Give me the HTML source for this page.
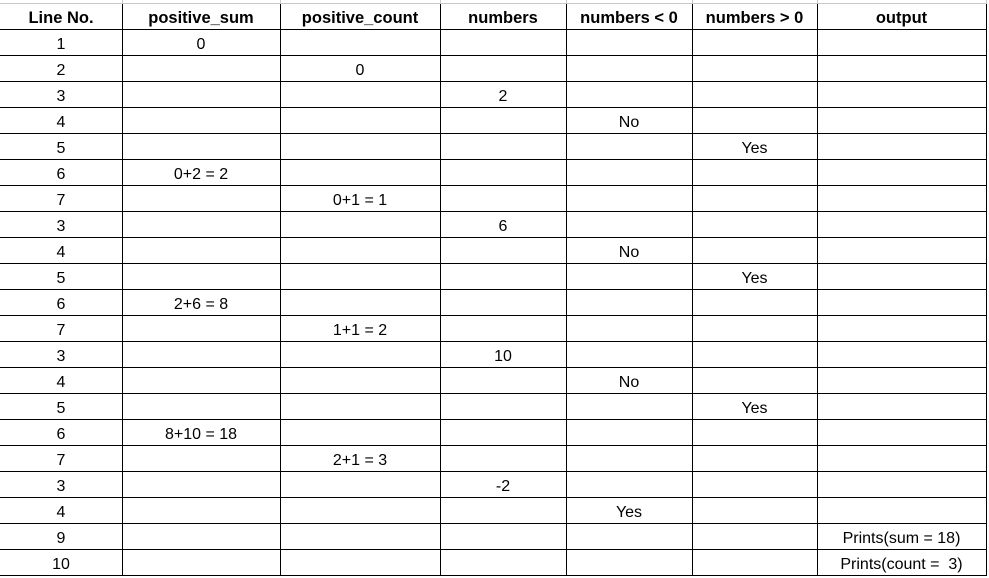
<!DOCTYPE html>
<html><head><style>
body{margin:0;width:989px;height:577px;background:#fff;position:relative;overflow:hidden;font-family:"Liberation Sans",Arial,sans-serif;font-size:16px;color:#000}
.v{position:absolute;top:3px;width:1px;height:573px;background:#000}
.vg{position:absolute;top:0;width:1px;height:4px;background:#c8c8c8}
.h{position:absolute;left:0;width:987px;height:1px;background:#000}
.c{position:absolute;height:26px;line-height:26px;text-align:center;white-space:nowrap}
.b{font-weight:bold;font-size:16.5px}
</style></head><body>
<div style="position:absolute;left:0;top:3px;width:987px;height:1px;background:#c8c8c8"></div>
<div id="g"></div>
<script>
var xs=[0,122,280,440,566,692,817,986];
var g=document.getElementById('g'),s='';
for(var i=1;i<xs.length;i++){s+='<div class="v" style="left:'+xs[i]+'px"></div><div class="vg" style="left:'+xs[i]+'px"></div>';}
for(var r=0;r<22;r++){s+='<div class="h" style="top:'+(29+26*r)+'px"></div>';}
var hdr=['Line No.','positive_sum','positive_count','numbers','numbers &lt; 0','numbers &gt; 0','output'];
var rows=[
['1','0','','','','',''],
['2','','0','','','',''],
['3','','','2','','',''],
['4','','','','No','',''],
['5','','','','','Yes',''],
['6','0+2 = 2','','','','',''],
['7','','0+1 = 1','','','',''],
['3','','','6','','',''],
['4','','','','No','',''],
['5','','','','','Yes',''],
['6','2+6 = 8','','','','',''],
['7','','1+1 = 2','','','',''],
['3','','','10','','',''],
['4','','','','No','',''],
['5','','','','','Yes',''],
['6','8+10 = 18','','','','',''],
['7','','2+1 = 3','','','',''],
['3','','','-2','','',''],
['4','','','','Yes','',''],
['9','','','','','','Prints(sum = 18)'],
['10','','','','','','Prints(count = &nbsp;3)']];
function cell(t,c,y,cls){return '<div class="c '+cls+'" style="left:'+xs[c]+'px;width:'+(xs[c+1]-xs[c])+'px;top:'+y+'px">'+t+'</div>';}
for(var c=0;c<7;c++)s+=cell(hdr[c],c,5,'b');
for(var r=0;r<rows.length;r++)for(var c=0;c<7;c++)if(rows[r][c])s+=cell(rows[r][c],c,32+26*r,'');
g.innerHTML=s;
</script>
</body></html>
